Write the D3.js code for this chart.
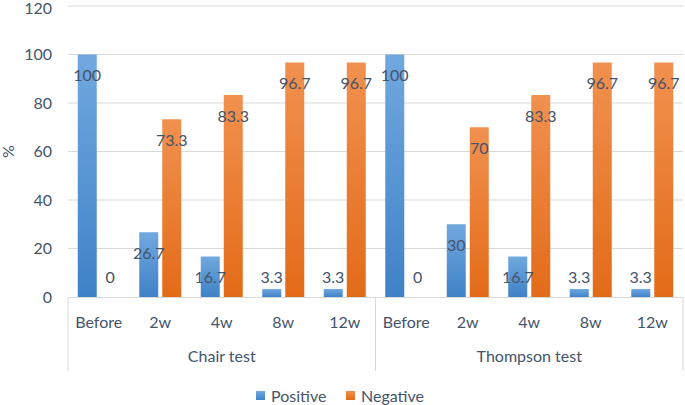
<!DOCTYPE html>
<html>
<head>
<meta charset="utf-8">
<script src="https://cdn.jsdelivr.net/npm/d3@7"></script>
<style>
	body { margin: 0; background: #fff; }
	svg text { font-family: Lato, "Open Sans", sans-serif; fill: #44546a; }
</style>
</head>
<body>
<svg id="chart" width="685" height="405"></svg>
<script>
const groups = ["Chair test", "Thompson test"]
const periods = ["Before", "2w", "4w", "8w", "12w"]
const series = ["Positive", "Negative"]
const positive = [100, 26.7, 16.7, 3.3, 3.3, 100, 30, 16.7, 3.3, 3.3]
const negative = [0, 73.3, 83.3, 96.7, 96.7, 0, 70, 83.3, 96.7, 96.7]
const yTicks = [0, 20, 40, 60, 80, 100, 120]

const svg = d3.select("#chart")
const plotLeft = 68, plotRight = 683, plotTop = 6, base = 297
const fs = 16

const cats = groups.flatMap(g => periods.map(p => g + "|" + p))
const x = d3.scaleBand().domain(cats).range([plotLeft, plotRight])
const xg = d3.scaleBand().domain(groups).range([plotLeft, plotRight])
const y = d3.scaleLinear().domain([0, 120]).range([base, plotTop])
const xs = d3.scaleBand().domain(series)
	.range([x.bandwidth() / 2 - 21, x.bandwidth() / 2 + 21])
	.paddingInner(0.174)

const colors = {
	Positive: ["#71a8df", "#3f82c7"],
	Negative: ["#f1914f", "#e36b18"]
}
const defs = svg.append("defs")
series.forEach(s => {
	const g = defs.append("linearGradient")
		.attr("id", "grad-" + s)
		.attr("x1", 0).attr("y1", 0).attr("x2", 0).attr("y2", 1)
	g.append("stop").attr("offset", "0%").attr("stop-color", colors[s][0])
	g.append("stop").attr("offset", "100%").attr("stop-color", colors[s][1])
})

// gridlines
svg.append("g")
	.selectAll("line")
	.data(yTicks.filter(t => t > 0))
	.enter()
	.append("line")
	.attr("x1", plotLeft).attr("x2", plotRight)
	.attr("y1", t => y(t)).attr("y2", t => y(t))
	.attr("stroke", "#d9d9d9")
	.attr("stroke-width", 1)

// y tick labels (top one nudged down so it stays inside the frame)
svg.append("g")
	.selectAll("text")
	.data(yTicks)
	.enter()
	.append("text")
	.attr("x", 52)
	.attr("y", t => Math.max(y(t), 8))
	.attr("dy", "0.35em")
	.attr("text-anchor", "end")
	.attr("font-size", fs)
	.text(t => t)

svg.append("text")
	.attr("transform", "translate(14," + y(60) + ") rotate(-90)")
	.attr("text-anchor", "middle")
	.attr("font-size", fs)
	.text("%")

// bars
const rows = cats.map((c, i) => ({ cat: c, Positive: positive[i], Negative: negative[i] }))
const bars = rows.flatMap(r => series.map(s => ({ cat: r.cat, series: s, value: r[s] })))

svg.append("g")
	.selectAll("rect")
	.data(bars)
	.enter()
	.append("rect")
	.attr("x", d => x(d.cat) + xs(d.series))
	.attr("width", xs.bandwidth())
	.attr("y", d => y(d.value))
	.attr("height", d => base - y(d.value))
	.attr("fill", d => "url(#grad-" + d.series + ")")

svg.append("g")
	.selectAll("text")
	.data(bars)
	.enter()
	.append("text")
	.attr("x", d => x(d.cat) + xs(d.series) + xs.bandwidth() / 2)
	.attr("y", d => Math.min(y(d.value) + 21, base - 20))
	.attr("dy", "0.35em")
	.attr("text-anchor", "middle")
	.attr("font-size", fs)
	.text(d => d.value)

// x axis
const axis = svg.append("g")
axis.append("line")
	.attr("x1", plotLeft).attr("x2", plotRight)
	.attr("y1", base + 0.5).attr("y2", base + 0.5)
	.attr("stroke", "#d9d9d9")
axis.selectAll(".sep")
	.data([plotLeft, xg("Thompson test"), plotRight])
	.enter()
	.append("line")
	.attr("x1", d => d).attr("x2", d => d)
	.attr("y1", base).attr("y2", 371)
	.attr("stroke", "#d9d9d9")
axis.selectAll(".cat")
	.data(cats)
	.enter()
	.append("text")
	.attr("x", d => x(d) + x.bandwidth() / 2)
	.attr("y", 322)
	.attr("dy", "0.35em")
	.attr("text-anchor", "middle")
	.attr("font-size", fs)
	.text(d => d.split("|")[1])
axis.selectAll(".grp")
	.data(groups)
	.enter()
	.append("text")
	.attr("x", d => xg(d) + xg.bandwidth() / 2)
	.attr("y", 356)
	.attr("dy", "0.35em")
	.attr("text-anchor", "middle")
	.attr("font-size", fs)
	.text(d => d)

// legend
const legend = svg.append("g")
const legendX = { Positive: 256, Negative: 346 }
series.forEach(s => {
	legend.append("rect")
		.attr("x", legendX[s]).attr("y", 391)
		.attr("width", 9).attr("height", 9)
		.attr("fill", "url(#grad-" + s + ")")
	legend.append("text")
		.attr("x", legendX[s] + 15)
		.attr("y", 396)
		.attr("dy", "0.35em")
		.attr("font-size", fs)
		.text(s)
})
</script>
</body>
</html>
